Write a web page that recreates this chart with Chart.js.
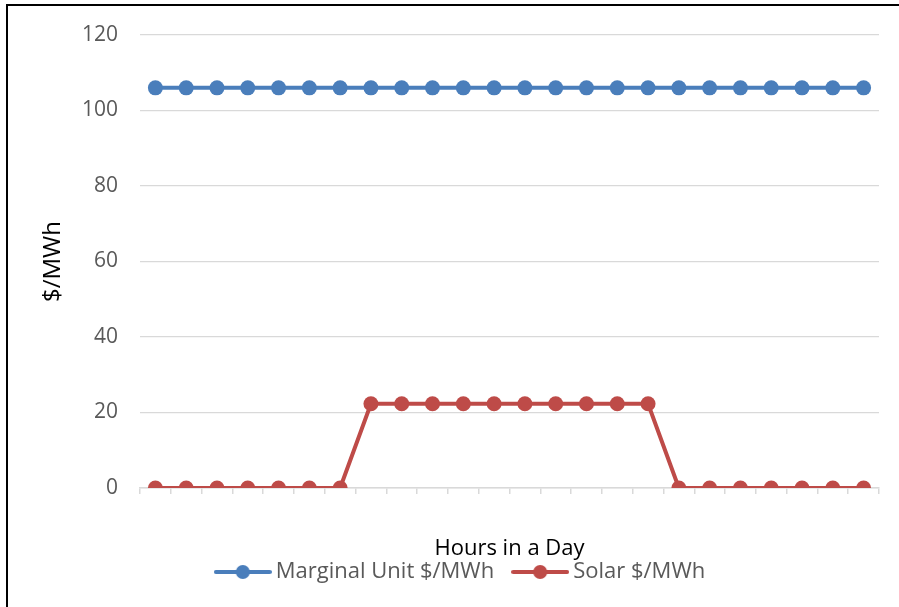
<!DOCTYPE html>
<html>
<head>
<meta charset="utf-8">
<script src="https://cdn.jsdelivr.net/npm/chart.js@4.4.1/dist/chart.umd.min.js"></script>
<style>
  html, body { margin: 0; padding: 0; background: #fff; overflow: hidden; }
  #wrap { position: relative; width: 918px; height: 607px; }
</style>
</head>
<body>
<div id="wrap"><canvas id="c" width="918" height="607"></canvas></div>
<script>
// Hours of the day (category axis, labels not shown)
const hours = ['1','2','3','4','5','6','7','8','9','10','11','12','13','14','15','16','17','18','19','20','21','22','23','24'];

// Cost of the marginal generating unit, $/MWh
const marginalUnit = [106,106,106,106,106,106,106,106,106,106,106,106,106,106,106,106,106,106,106,106,106,106,106,106];

// Solar cost, $/MWh (zero outside daylight hours)
const solar = [0,0,0,0,0,0,0,22.3,22.3,22.3,22.3,22.3,22.3,22.3,22.3,22.3,22.3,0,0,0,0,0,0,0];

// Y axis ticks
const yTicks = [0, 20, 40, 60, 80, 100, 120];

const BLUE = '#4a7ebb';
const RED = '#be4b48';
const FONT = "'Open Sans', 'Liberation Sans', sans-serif";

// Legend swatch: a short line with a round marker
function lineMarker(color) {
  const c = document.createElement('canvas');
  c.width = 58; c.height = 16;
  const g = c.getContext('2d');
  g.strokeStyle = color; g.lineWidth = 4; g.lineCap = 'round';
  g.beginPath(); g.moveTo(2, 8); g.lineTo(56, 8); g.stroke();
  g.fillStyle = color;
  g.beginPath(); g.arc(29, 8, 7, 0, Math.PI * 2); g.fill();
  return c;
}

// Frame around the chart and white background
const framePlugin = {
  id: 'frame',
  beforeDraw(chart) {
    const ctx = chart.ctx;
    ctx.save();
    ctx.fillStyle = '#fff';
    ctx.fillRect(0, 0, chart.width, chart.height);
    ctx.strokeStyle = '#000';
    ctx.lineWidth = 2;
    ctx.beginPath();
    ctx.moveTo(7, chart.height + 5);
    ctx.lineTo(7, 5);
    ctx.lineTo(chart.width + 5, 5);
    ctx.stroke();
    ctx.restore();
  }
};

new Chart(document.getElementById('c'), {
  type: 'line',
  data: {
    labels: hours,
    datasets: [
      {
        label: 'Marginal Unit $/MWh',
        data: marginalUnit,
        borderColor: BLUE,
        backgroundColor: BLUE,
        borderWidth: 4,
        pointRadius: 7.5,
        pointBorderWidth: 0,
        pointBackgroundColor: BLUE,
        tension: 0
      },
      {
        label: 'Solar $/MWh',
        data: solar,
        borderColor: RED,
        backgroundColor: RED,
        borderWidth: 4,
        pointRadius: 7.5,
        pointBorderWidth: 0,
        pointBackgroundColor: RED,
        tension: 0
      }
    ]
  },
  options: {
    responsive: false,
    animation: false,
    events: [],
    layout: { padding: { left: 8, right: 0, top: 35, bottom: 14 } },
    scales: {
      x: {
        type: 'category',
        offset: true,
        grid: {
          offset: true,
          drawOnChartArea: false,
          drawTicks: true,
          tickLength: 6,
          color: '#d9d9d9',
          lineWidth: 1.5
        },
        border: { display: true, color: '#d9d9d9', width: 1.5 },
        ticks: { display: false },
        title: {
          display: true,
          text: 'Hours in a Day',
          color: '#000',
          font: { family: FONT, size: 22 },
          padding: { top: 0, bottom: -25 }
        },
        afterFit(s) { s.height = 49; }
      },
      y: {
        min: 0,
        max: 120,
        afterBuildTicks(s) { s.ticks = yTicks.map(v => ({ value: v })); },
        grid: { color: '#d9d9d9', lineWidth: 1.2, drawTicks: false },
        border: { display: false },
        ticks: {
          color: '#595959',
          font: { family: FONT, size: 21 },
          padding: 22
        },
        title: {
          display: true,
          text: '$/MWh',
          color: '#000',
          font: { family: FONT, size: 24 },
          padding: { top: 31, bottom: 0 }
        },
        afterFit(s) { s.width = 132; }
      },
      // empty right-hand margin beside the plot
      yRight: {
        position: 'right',
        display: true,
        grid: { display: false },
        border: { display: false },
        ticks: { display: false },
        afterFit(s) { s.width = 39; }
      }
    },
    plugins: {
      title: { display: false },
      tooltip: { enabled: false },
      legend: {
        position: 'bottom',
        labels: {
          color: '#595959',
          font: { family: FONT, size: 22 },
          usePointStyle: true,
          pointStyleWidth: 44,
          padding: 24,
          generateLabels(chart) {
            return chart.data.datasets.map((ds, i) => ({
              text: ds.label,
              fillStyle: ds.borderColor,
              strokeStyle: ds.borderColor,
              fontColor: '#595959',
              lineWidth: 0,
              pointStyle: lineMarker(ds.borderColor),
              hidden: false,
              datasetIndex: i
            }));
          }
        }
      }
    }
  },
  plugins: [framePlugin]
});
</script>
</body>
</html>
